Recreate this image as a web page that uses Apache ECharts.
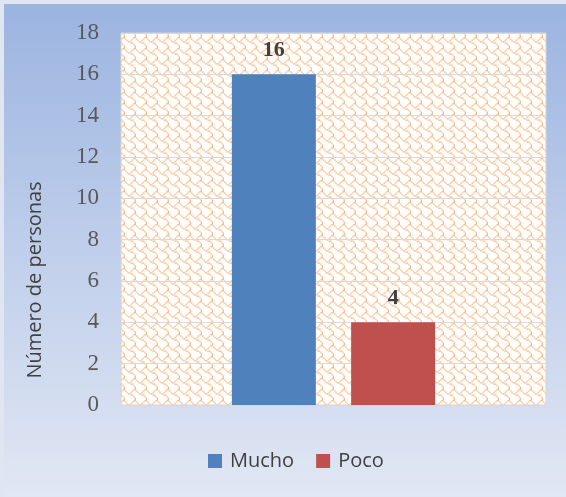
<!DOCTYPE html>
<html><head><meta charset="utf-8">
<script src="https://cdn.jsdelivr.net/npm/echarts@6/dist/echarts.min.js"></script>
<style>
html,body{margin:0;padding:0;background:#dfe6f1;}
#c{position:absolute;left:4px;top:4px;width:562px;height:493px;}
</style></head>
<body><div id="c"></div>
<script>
const categories = ['Nivel'];
const seriesNames = ['Mucho', 'Poco'];
const muchoValues = [16];
const pocoValues = [4];
const yTicks = [0, 2, 4, 6, 8, 10, 12, 14, 16, 18];
const yTitle = 'Número de personas';

// shingle pattern tile (8x8 bitmap scaled)
const bits = [0x03,0x84,0x48,0x30,0x0C,0x02,0x01,0x01];
const small = document.createElement('canvas');
small.width = 8; small.height = 8;
const sg = small.getContext('2d');
sg.fillStyle = '#ffffff'; sg.fillRect(0,0,8,8);
sg.fillStyle = '#f9be8c';
bits.forEach((b, r) => { for (let c = 0; c < 8; c++) if (b & (0x80 >> c)) sg.fillRect(c, r, 1, 1); });
const tile = document.createElement('canvas');
tile.width = 11; tile.height = 11;
const tg = tile.getContext('2d');
tg.imageSmoothingEnabled = true;
tg.drawImage(small, 0, 0, 11, 11);

const chart = echarts.init(document.getElementById('c'));
chart.setOption({
  animation:false,
  backgroundColor:{type:'linear',x:0,y:0,x2:0,y2:1,colorStops:[{offset:0,color:'#9bb4e0'},{offset:0.55,color:'#c3d1ec'},{offset:1,color:'#e1e7f3'}]},
  grid:{left:117,right:20,top:29,bottom:92,show:true,backgroundColor:{image:tile,repeat:'repeat'},borderColor:'#d4d4d4',borderWidth:1},
  legend:{bottom:21,left:199,itemWidth:14,itemHeight:14,itemGap:22,icon:'rect',
    textStyle:{fontFamily:'Open Sans',fontSize:20,color:'#404040',padding:[0,0,0,3]},data:seriesNames},
  xAxis:{type:'category',data:categories,axisLabel:{show:false},axisTick:{show:false},axisLine:{show:false}},
  yAxis:{type:'value',min:0,max:18,interval:2,
    axisLabel:{fontFamily:'Liberation Serif',fontSize:23,color:'#595959',margin:22,padding:[3,0,0,0]},
    axisLine:{show:false},axisTick:{show:false},
    splitLine:{lineStyle:{color:'#d9d9d9',width:1}}},
  graphic:[{type:'text',x:31,y:276,rotation:Math.PI/2,
    style:{text:yTitle,fontFamily:'Open Sans',fontSize:20,fill:'#404040',align:'center',verticalAlign:'middle'}}],
  series:[
    {name:seriesNames[0],type:'bar',data:muchoValues,barWidth:84,barGap:'42%',
     itemStyle:{color:'#4f81bd'},
     label:{show:true,position:'top',distance:13,fontFamily:'Liberation Serif',fontWeight:'bold',fontSize:22,color:'#404040'}},
    {name:seriesNames[1],type:'bar',data:pocoValues,barWidth:84,
     itemStyle:{color:'#c0504d'},
     label:{show:true,position:'top',distance:13,fontFamily:'Liberation Serif',fontWeight:'bold',fontSize:22,color:'#404040'}}
  ]
});
</script></body></html>
